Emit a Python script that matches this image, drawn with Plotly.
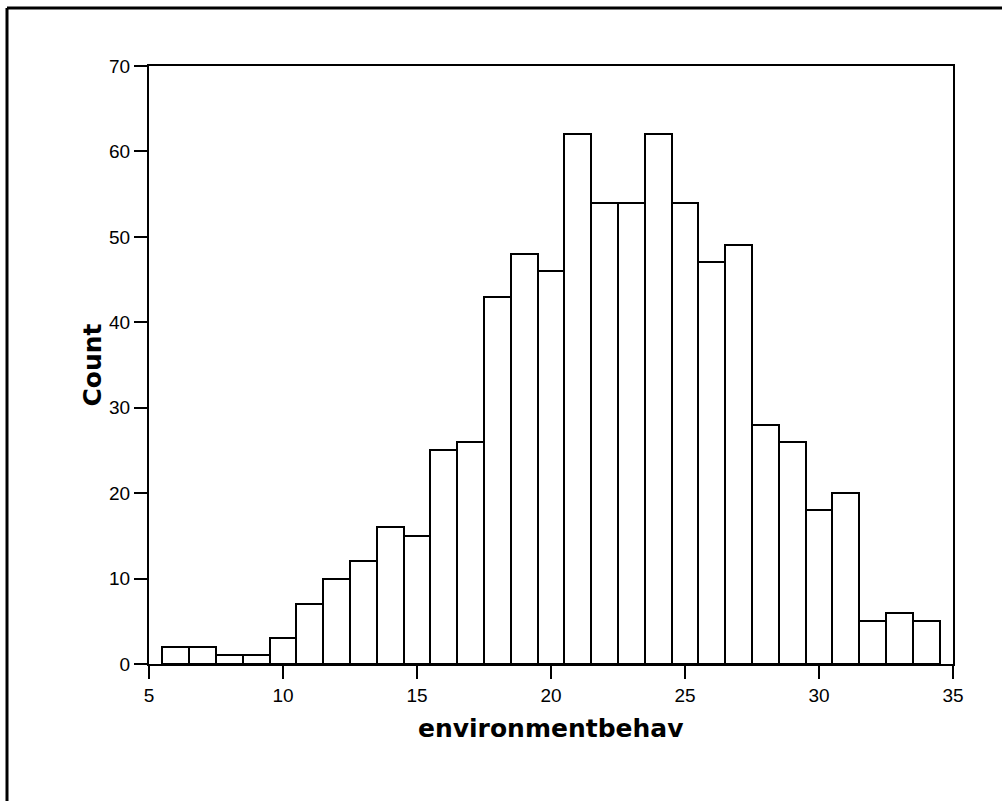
import plotly.graph_objects as go

bin_centers = [6, 7, 8, 9, 10, 11, 12, 13, 14, 15, 16, 17, 18, 19, 20,
               21, 22, 23, 24, 25, 26, 27, 28, 29, 30, 31, 32, 33, 34]
counts = [2, 2, 1, 1, 3, 7, 10, 12, 16, 15, 25, 26, 43, 48, 46,
          62, 54, 54, 62, 54, 47, 49, 28, 26, 18, 20, 5, 6, 5]
x_ticks = [5, 10, 15, 20, 25, 30, 35]
y_ticks = [0, 10, 20, 30, 40, 50, 60, 70]
x_title = "environmentbehav"
y_title = "Count"

W, H = 1002, 801
L, R, T, B = 149, 49, 66, 137
pw, ph = W - L - R, H - T - B

font = "Liberation Sans, Arial, sans-serif"
title_font = "DejaVu Sans, Verdana, sans-serif"

fig = go.Figure()
fig.add_trace(go.Bar(
    x=bin_centers, y=counts, width=1,
    marker=dict(color="white", line=dict(color="black", width=2)),
    showlegend=False,
))

fig.update_layout(
    width=W, height=H,
    margin=dict(l=L, r=R, t=T, b=B, pad=0),
    paper_bgcolor="white", plot_bgcolor="white",
    font=dict(family=font, color="black", size=19),
    bargap=0,
    xaxis=dict(
        range=[5, 35], tickvals=x_ticks, ticktext=[str(v) for v in x_ticks],
        showgrid=False, zeroline=False,
        showline=True, linecolor="black", linewidth=2, mirror=True,
        ticks="outside", ticklen=13, tickwidth=2, tickcolor="black",
        tickfont=dict(size=19, family=font),
    ),
    yaxis=dict(
        range=[0, 70], tickvals=y_ticks, ticktext=[str(v) for v in y_ticks],
        showgrid=False, zeroline=False,
        showline=True, linecolor="black", linewidth=2, mirror=True,
        ticks="outside", ticklen=13, tickwidth=2, tickcolor="black",
        tickfont=dict(size=19, family=font),
        title=dict(text="<b>" + y_title + "</b>", font=dict(size=25, family=title_font), standoff=0),
    ),
)

fig.add_annotation(
    text="<b>" + x_title + "</b>", xref="paper", yref="paper",
    x=0.5, y=(H - B - 728) / ph, xanchor="center", yanchor="middle",
    showarrow=False, font=dict(size=25, family=title_font, color="black"),
)

# outer border of the figure (left and top edges visible)
x0 = (7 - L) / pw
y0 = (H - B - 8) / ph
fig.add_shape(type="line", xref="paper", yref="paper",
              x0=x0, y0=y0, x1=x0, y1=(H - B - H - 5) / ph,
              line=dict(color="black", width=3))
fig.add_shape(type="line", xref="paper", yref="paper",
              x0=x0, y0=y0, x1=(W + 5 - L) / pw, y1=y0,
              line=dict(color="black", width=3))

fig.write_html("out.html")
